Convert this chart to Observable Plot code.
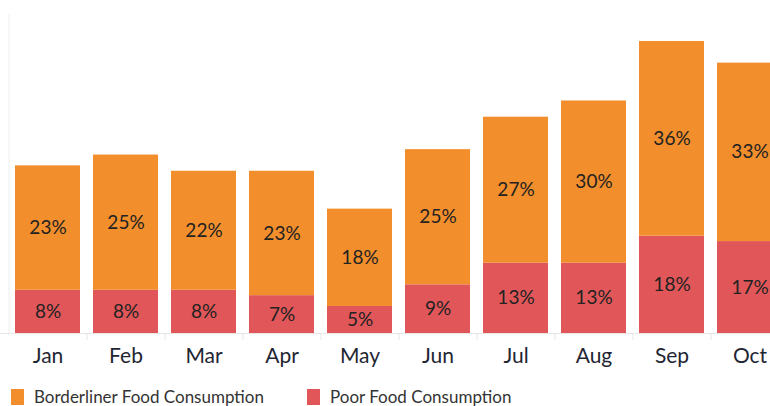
<!DOCTYPE html>
<html>
<head>
<meta charset="utf-8">
<script src="https://cdn.jsdelivr.net/npm/d3@7"></script>
<script src="https://cdn.jsdelivr.net/npm/@observablehq/plot@0.6"></script>
<style>
  html, body { margin: 0; padding: 0; background: #fff; overflow: hidden; width: 770px; height: 406px; }
  #wrap { position: relative; width: 770px; height: 406px; }
  #legend { position: absolute; left: 0; top: 387px; width: 770px; height: 19px; font-family: Lato, sans-serif; font-size: 17px; line-height: 20px; color: #333; }
  .item { position: absolute; top: 0; display: flex; align-items: flex-start; white-space: nowrap; }
  .sw { width: 13px; height: 16px; margin-top: 2px; margin-right: 10px; }
</style>
</head>
<body>
<div id="wrap"><div id="chart"></div><div id="legend"></div></div>
<script>
const months = ["Jan","Feb","Mar","Apr","May","Jun","Jul","Aug","Sep","Oct"];
const poor = [8, 8, 8, 7, 5, 9, 13, 13, 18, 17];
const borderline = [23, 25, 22, 23, 18, 25, 27, 30, 36, 33];
const seriesNames = ["Poor Food Consumption", "Borderliner Food Consumption"];
const seriesColors = ["#E15759", "#F28E2B"];
const legendOrder = ["Borderliner Food Consumption", "Poor Food Consumption"];

const data = [];
months.forEach((m, i) => {
  data.push({month: m, series: seriesNames[0], value: poor[i]});
  data.push({month: m, series: seriesNames[1], value: borderline[i]});
});

const chart = Plot.plot({
  width: 770,
  height: 384,
  marginTop: 0, marginBottom: 51, marginLeft: 0, marginRight: 0,
  style: {fontFamily: "Lato, sans-serif", background: "#fff", overflow: "hidden"},
  x: {domain: months, range: [7, 789], paddingInner: 0.17, paddingOuter: 0.085, label: null},
  y: {domain: [0, 54], range: [333, 41], axis: null},
  color: {domain: seriesNames, range: seriesColors},
  marks: [
    Plot.ruleX([months[0]], {x: d => d, dx: -39, y1: 0, y2: 59, stroke: "#eeeeee", strokeWidth: 1}),
    Plot.barY(data, {x: "month", y: "value", fill: "series"}),
    Plot.ruleY([0], {stroke: "#e6e6e6"}),
    Plot.ruleX(months.slice(0, -1), {x: d => d, dx: 39, y1: 0, y2: -1.3, stroke: "#e6e6e6"}),
    Plot.text(data, Plot.stackY({x: "month", y: "value", text: d => d.value + "%", fill: "#222", fontSize: 19})),
    Plot.axisX({tickSize: 0, tickPadding: 15, fontSize: 21, fill: "#1f2633", anchor: "bottom"})
  ]
});
document.getElementById("chart").appendChild(chart);

const legend = document.getElementById("legend");
const lx = [11, 307];
legendOrder.forEach((name, i) => {
  const it = document.createElement("div");
  it.className = "item";
  it.style.left = lx[i] + "px";
  const sw = document.createElement("div");
  sw.className = "sw";
  sw.style.background = seriesColors[seriesNames.indexOf(name)];
  const tx = document.createElement("span");
  tx.textContent = name;
  it.appendChild(sw); it.appendChild(tx);
  legend.appendChild(it);
});
</script>
</body>
</html>
